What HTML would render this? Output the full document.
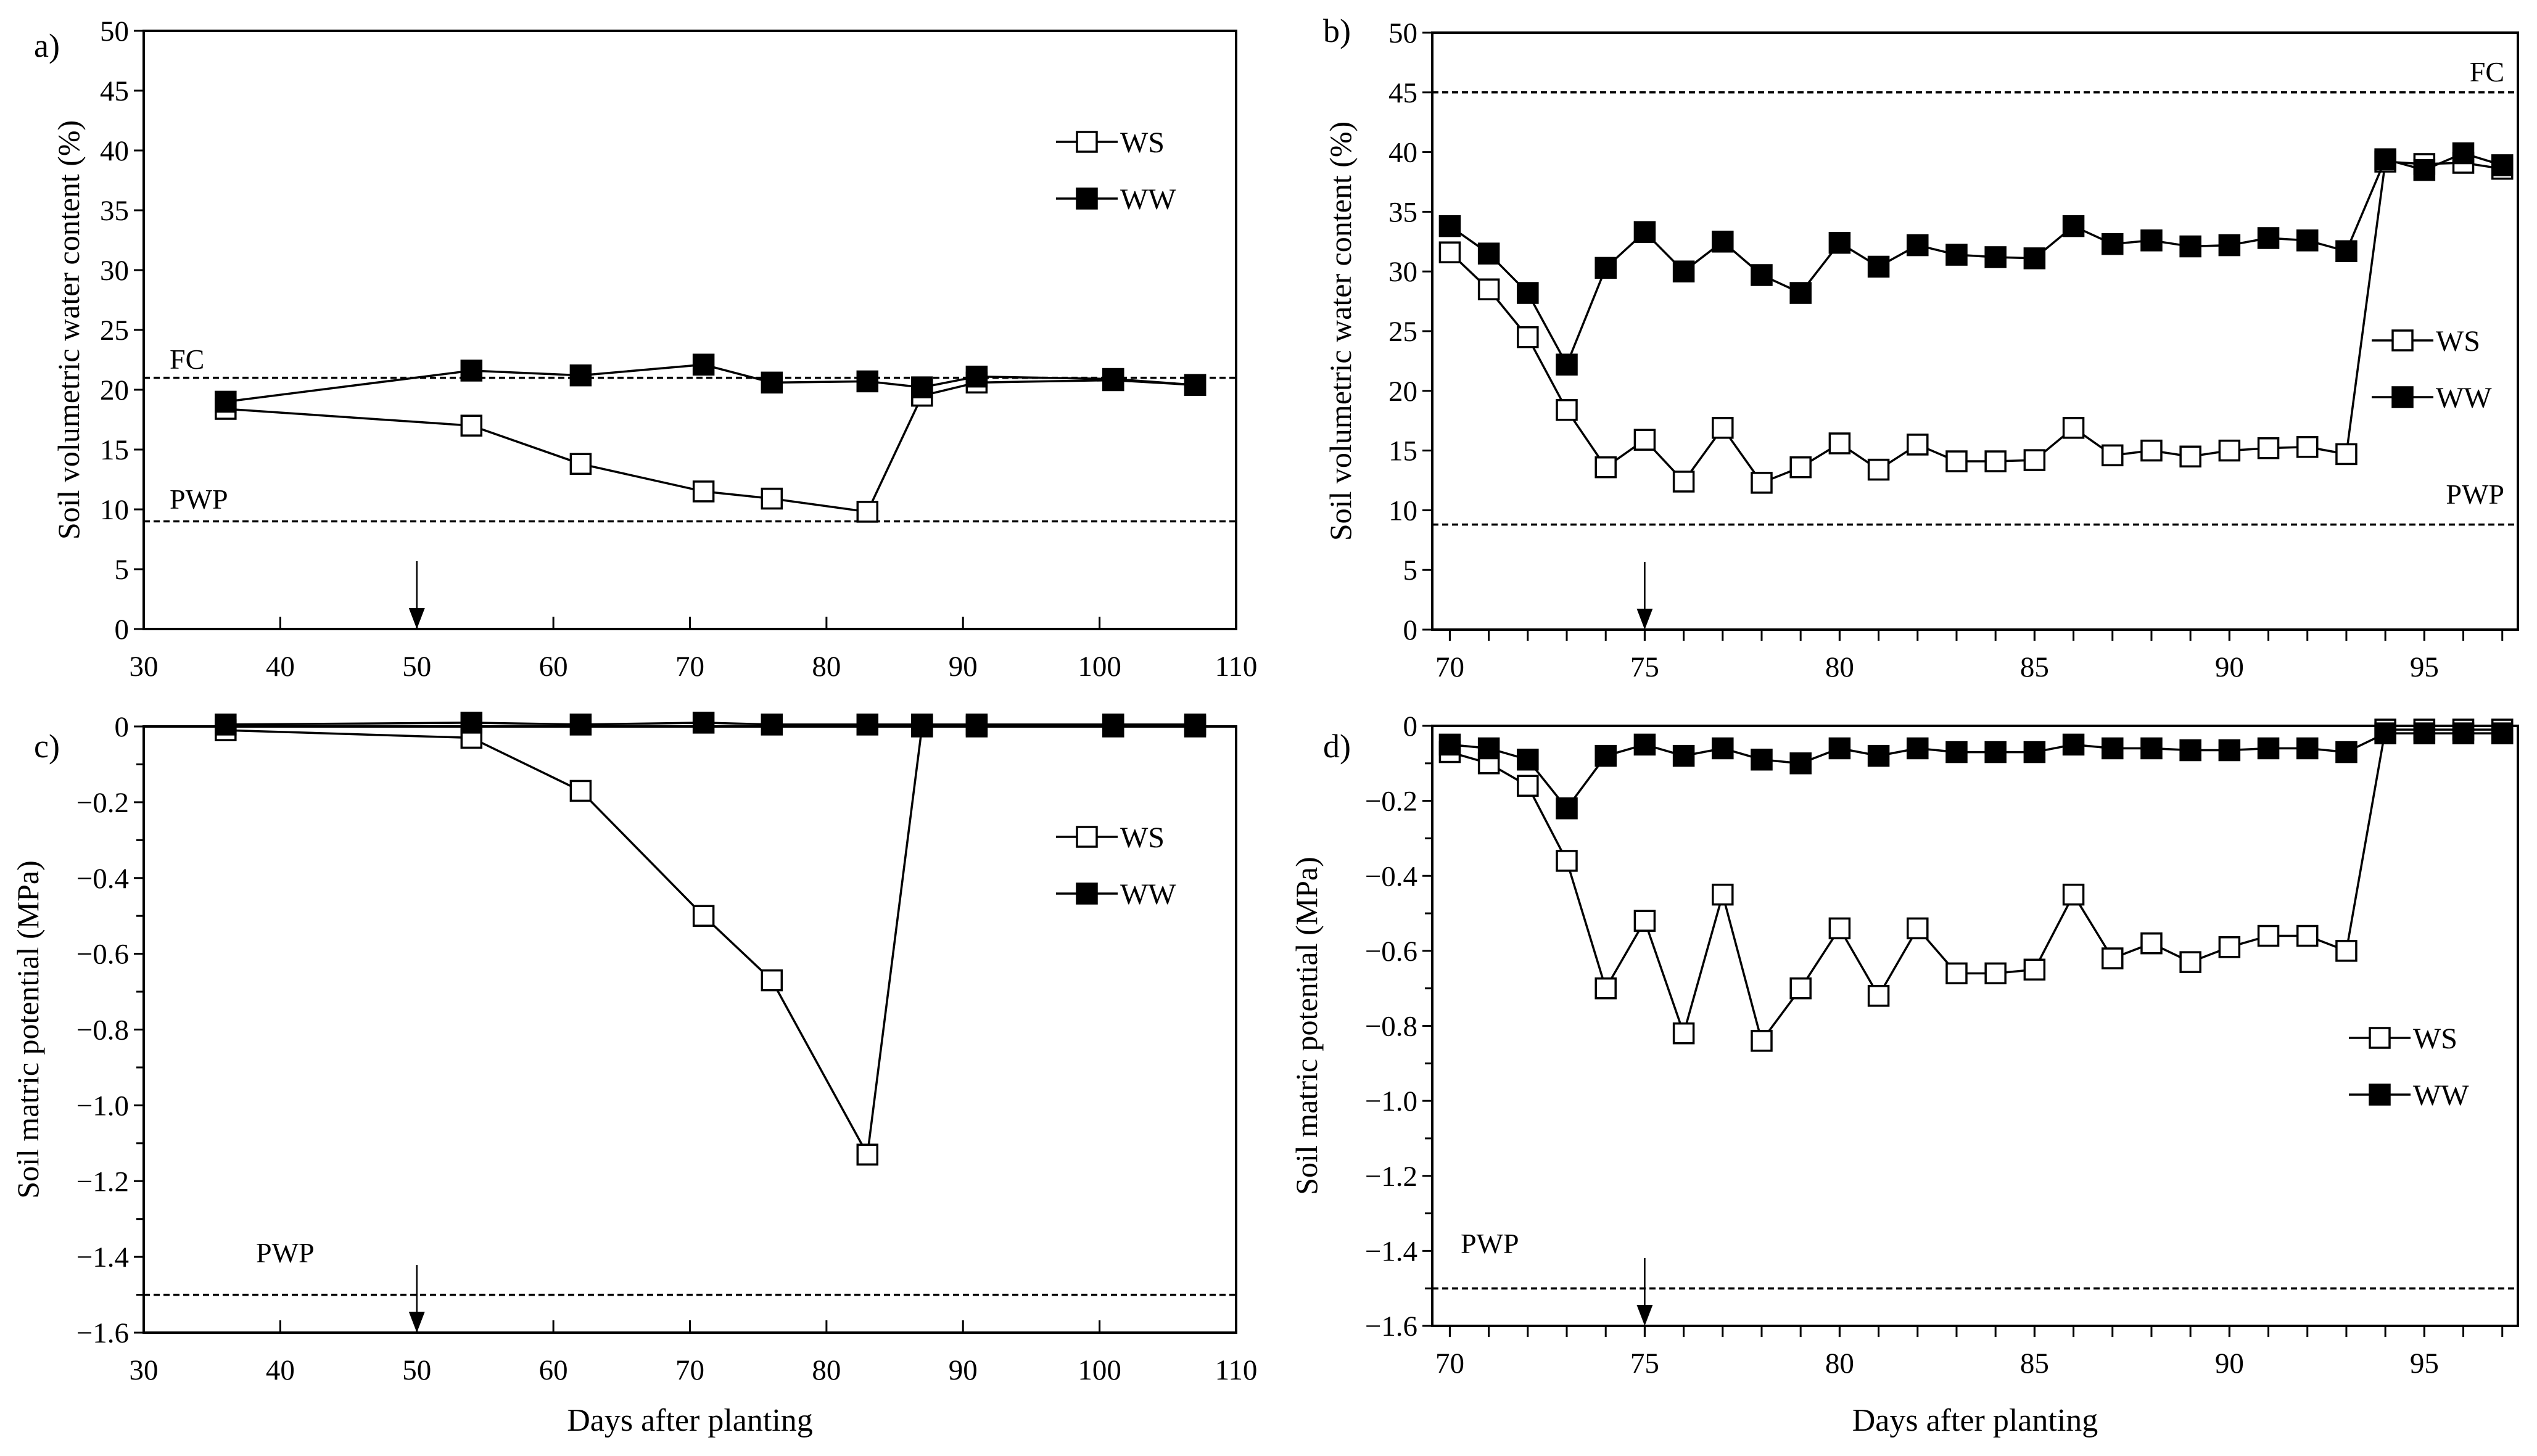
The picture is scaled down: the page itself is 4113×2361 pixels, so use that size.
<!DOCTYPE html>
<html><head><meta charset="utf-8"><style>
html,body{margin:0;padding:0;background:#fff}
svg{display:block;font-family:"Liberation Serif",serif}
</style></head><body>
<svg id="fig" xmlns="http://www.w3.org/2000/svg" width="4113" height="2361" viewBox="0 0 4113 2361"></svg>
<script>
const daysA=[36,54,62,71,76,83,87,91,101,107];
const wsA=[18.4,17,13.8,11.5,10.9,9.8,19.5,20.6,20.8,20.4];
const wwA=[19,21.6,21.2,22.1,20.6,20.7,20.2,21.1,20.9,20.4];
const wsC=[-0.01,-0.03,-0.17,-0.50,-0.67,-1.13,0,0,0,0];
const wwC=[0.005,0.01,0.005,0.01,0.005,0.005,0.005,0.005,0.005,0.005];
const daysB=[70,71,72,73,74,75,76,77,78,79,80,81,82,83,84,85,86,87,88,89,90,91,92,93,94,95,96,97];
const wsB=[31.6,28.5,24.5,18.4,13.6,15.9,12.4,16.9,12.3,13.6,15.6,13.4,15.5,14.1,14.1,14.2,16.9,14.6,15,14.5,15,15.2,15.3,14.7,39.2,39,39.1,38.6];
const wwB=[33.8,31.5,28.2,22.2,30.3,33.3,30,32.5,29.7,28.2,32.4,30.4,32.2,31.4,31.2,31.1,33.8,32.3,32.6,32.1,32.2,32.8,32.6,31.7,39.4,38.5,39.9,38.9];
const wsD=[-0.07,-0.10,-0.16,-0.36,-0.70,-0.52,-0.82,-0.45,-0.84,-0.70,-0.54,-0.72,-0.54,-0.66,-0.66,-0.65,-0.45,-0.62,-0.58,-0.63,-0.59,-0.56,-0.56,-0.60,-0.01,-0.01,-0.01,-0.01];
const wwD=[-0.05,-0.06,-0.09,-0.22,-0.08,-0.05,-0.08,-0.06,-0.09,-0.10,-0.06,-0.08,-0.06,-0.07,-0.07,-0.07,-0.05,-0.06,-0.06,-0.065,-0.065,-0.06,-0.06,-0.07,-0.02,-0.02,-0.02,-0.02];
const ticksA=[30,40,50,60,70,80,90,100,110];
const ticksB=[70,75,80,85,90,95];
const yTicksSWC=[0,5,10,15,20,25,30,35,40,45,50];
const yTicksPot=[0,-0.2,-0.4,-0.6,-0.8,-1.0,-1.2,-1.4,-1.6];

const svg=document.getElementById('fig');
const NS='http://www.w3.org/2000/svg';
function mk(tag,attrs,parent,text){const e=document.createElementNS(NS,tag);for(const k in attrs)e.setAttribute(k,attrs[k]);if(text!==undefined)e.textContent=text;(parent||svg).appendChild(e);return e;}

function panel(p){
  const g=mk('g',{});
  
  
  const sx=v=>p.x0+(v-p.xmin)/(p.xmax-p.xmin)*(p.x1-p.x0);
  const sy=v=>p.y0+(p.ymax-v)/(p.ymax-p.ymin)*(p.y1-p.y0);
  const frame=mk('rect',{x:p.x0,y:p.y0,width:p.x1-p.x0,height:p.y1-p.y0,fill:'none',stroke:'#000','stroke-width':4},g);
  
  
  p.xticks.forEach((t,i)=>{
    const x=sx(t);
    const tk=mk('line',{x1:x,x2:x,y1:p.y1,y2:p.y1+(p.xTickDir||-20),stroke:'#000','stroke-width':3},g);
    
    
    const lb=mk('text',{x:x,y:p.y1+76,'font-size':47,'text-anchor':'middle'},g,t);
    
    
  });
  if(p.minorX){p.minorX.forEach(t=>{const x=sx(t);const tk=mk('line',{x1:x,x2:x,y1:p.y1,y2:p.y1+18,stroke:'#000','stroke-width':3},g);});}
  p.yticks.forEach(t=>{
    const y=sy(t);
    const tk=mk('line',{x1:p.x0-16,x2:p.x0,y1:y,y2:y,stroke:'#000','stroke-width':3},g);
    
    
    let s=p.pot?(t===0?'0':(t<0?'\u2212':'')+Math.abs(t).toFixed(1)):String(t);
    const lb=mk('text',{x:p.x0-24,y:y+16,'font-size':47,'text-anchor':'end'},g,s);
    
    
  });
  if(p.pot){for(let v=-0.1;v>-1.6;v-=0.2){const y=sy(v);const tk=mk('line',{x1:p.x0-12,x2:p.x0,y1:y,y2:y,stroke:'#000','stroke-width':3},g);}}
  p.refs.forEach(r=>{
    const y=sy(r.v);
    const l=mk('line',{x1:p.x0,x2:p.x1,y1:y,y2:y,stroke:'#000','stroke-width':3.5,'stroke-dasharray':'10 6'},g);
    
    
    if(r.label){const t=mk('text',{x:r.lx,y:r.ly,'font-size':46,'text-anchor':r.anchor||'start'},g,r.label);
    
    }
  });
  const ax=sx(p.arrowX);
  const al=mk('line',{x1:ax,x2:ax,y1:p.y1-110,y2:p.y1-30,stroke:'#000','stroke-width':2.5},g);
  
  
  const ah=mk('polygon',{points:`${ax-13},${p.y1-34} ${ax+13},${p.y1-34} ${ax},${p.y1}`,fill:'#000'},g);
  
  
  [[p.ws,'ws','#fff'],[p.ww,'ww','#000']].forEach(([vals,nm,fill])=>{
    const pts=p.days.map((d,i)=>sx(d)+','+sy(vals[i])).join(' ');
    const pl=mk('polyline',{points:pts,fill:'none',stroke:'#000','stroke-width':3.5},g);
    
    
    p.days.forEach((d,i)=>{
      const m=mk('rect',{x:sx(d)-16,y:sy(vals[i])-16,width:32,height:32,fill:fill,stroke:'#000','stroke-width':3.5},g);
      
      
    });
  });
  [['WS','#fff',p.leg[1]],['WW','#000',p.leg[1]+92]].forEach(([lab,fill,ly])=>{
    const lg=mk('g',{},g);
    
    
    mk('line',{x1:p.leg[0],x2:p.leg[0]+100,y1:ly,y2:ly,stroke:'#000','stroke-width':3.5},lg);
    mk('rect',{x:p.leg[0]+34,y:ly-16,width:32,height:32,fill:fill,stroke:'#000','stroke-width':3.5},lg);
    mk('text',{x:p.leg[0]+104,y:ly+17,'font-size':48},lg,lab);
  });
  const pl=mk('text',{x:p.plx,y:p.ply,'font-size':54},g,p.letter);
  
  
  const yt=mk('text',{x:0,y:0,'font-size':50,'text-anchor':'middle',transform:`translate(${p.ytx},${(p.y0+p.y1)/2}) rotate(-90)`},g,p.ytitle);
  
  
  if(p.xtitle){const xt=mk('text',{x:(p.x0+p.x1)/2,y:2320,'font-size':52,'text-anchor':'middle'},g,'Days after planting');
  
  }
}
const SWC='Soil volumetric water content (%)', POT='Soil matric potential (MPa)';
panel({name:'panel-a',x0:233,x1:2004,y0:50,y1:1020,xmin:30,xmax:110,ymin:0,ymax:50,xticks:ticksA,yticks:yTicksSWC,days:daysA,ws:wsA,ww:wwA,
  refs:[{v:21,name:'fc',label:'FC',lx:275,ly:598},{v:9,name:'pwp',label:'PWP',lx:275,ly:825}],arrowX:50,leg:[1712,230],letter:'a)',plx:55,ply:92,ytitle:SWC,ytx:128});
panel({name:'panel-b',x0:2322,x1:4082,y0:53,y1:1021,xmin:69.55,xmax:97.4,ymin:0,ymax:50,xticks:ticksB,xTickDir:18,minorX:daysB,yticks:yTicksSWC,days:daysB,ws:wsB,ww:wwB,
  refs:[{v:45,name:'fc',label:'FC',lx:4060,ly:132,anchor:'end'},{v:8.8,name:'pwp',label:'PWP',lx:4060,ly:817,anchor:'end'}],arrowX:75,leg:[3845,552],letter:'b)',plx:2145,ply:68,ytitle:SWC,ytx:2190});
panel({name:'panel-c',x0:233,x1:2004,y0:1178,y1:2161,xmin:30,xmax:110,ymin:-1.6,ymax:0,pot:true,xticks:ticksA,yticks:yTicksPot,days:daysA,ws:wsC,ww:wwC,
  refs:[{v:0,name:'zero'},{v:-1.5,name:'pwp',label:'PWP',lx:415,ly:2047}],arrowX:50,leg:[1712,1357],letter:'c)',plx:55,ply:1228,ytitle:POT,ytx:62,xtitle:true});
panel({name:'panel-d',x0:2322,x1:4082,y0:1177,y1:2150,xmin:69.55,xmax:97.4,ymin:-1.6,ymax:0,pot:true,xticks:ticksB,xTickDir:18,minorX:daysB,yticks:yTicksPot,days:daysB,ws:wsD,ww:wwD,
  refs:[{v:-1.5,name:'pwp',label:'PWP',lx:2368,ly:2032}],arrowX:75,leg:[3808,1683],letter:'d)',plx:2145,ply:1228,ytitle:POT,ytx:2135,xtitle:true});
</script>
</body></html>
